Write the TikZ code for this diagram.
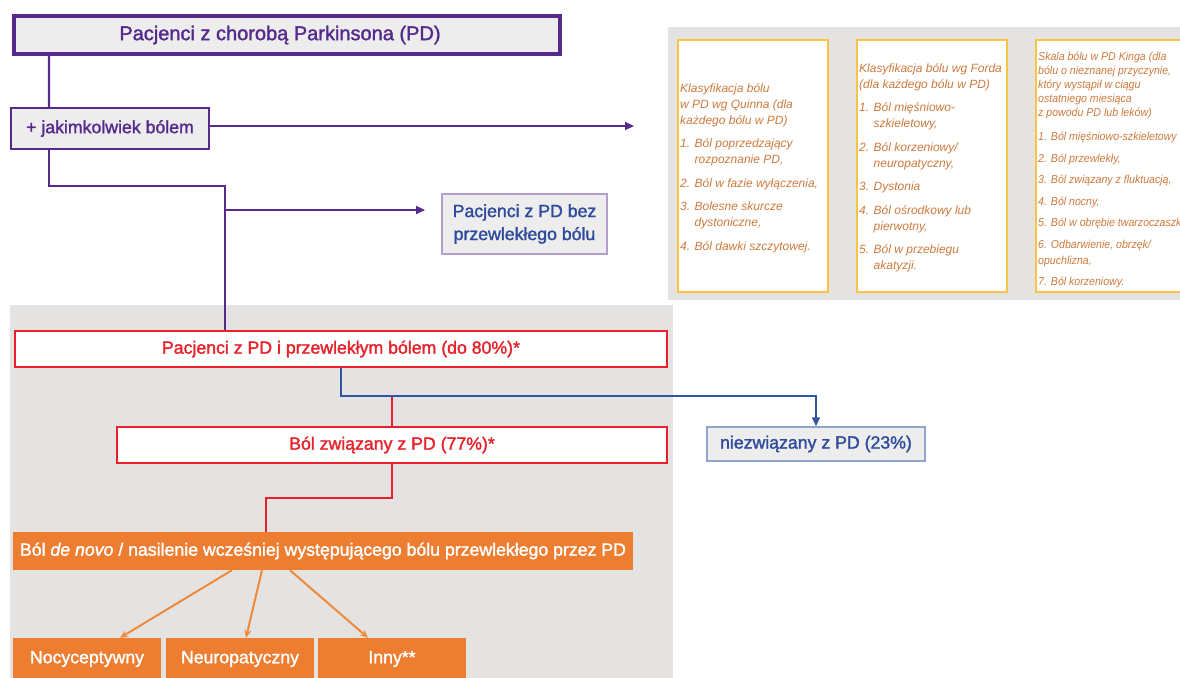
\documentclass[tikz,border=0pt]{standalone}
\usepackage{fontspec}
\setmainfont{Liberation Sans}[FakeBold=1.6]
\newfontfamily\notef{Liberation Sans}
\newfontfamily\notecf{Liberation Sans}[FakeStretch=0.92]
\usetikzlibrary{arrows.meta}

\definecolor{purp}{HTML}{552A8C}
\definecolor{boxgray}{HTML}{EDEDED}
\definecolor{panelgray}{HTML}{E4E3E2}
\definecolor{redl}{HTML}{E8212A}
\definecolor{bluel}{HTML}{2F55A4}
\definecolor{bluetxt}{HTML}{2F4B9B}
\definecolor{bluebd}{HTML}{8FA3CC}
\definecolor{orangef}{HTML}{ED7D31}
\definecolor{orangel}{HTML}{EF8A3A}
\definecolor{yellowbd}{HTML}{F6C446}
\definecolor{notetxt}{HTML}{CF7A3C}

\newcommand{\lab}{\fontsize{17.7}{23}\selectfont}

\begin{document}
\begin{tikzpicture}[x=1pt,y=-1pt,
    box/.style={draw, rectangle, inner sep=0pt, align=center, font=\lab},
    purpbox/.style={box, draw=purp, fill=boxgray, text=purp, line width=1.8pt},
    bluebox/.style={box, draw=bluebd, fill=boxgray, text=bluetxt, line width=1.5pt},
    redbox/.style={box, draw=redl, fill=white, text=redl, line width=2pt},
    orbox/.style={box, draw=none, fill=orangef, text=white},
    notebox/.style={draw=yellowbd, fill=white, line width=2pt, inner sep=0pt},
    notetext/.style={align=left, anchor=west, inner sep=0pt, text=notetxt},
    purpline/.style={draw=purp, line width=2.2pt},
    redline/.style={draw=redl, line width=2pt},
    blueline/.style={draw=bluel, line width=2pt},
    orarrow/.style={draw=orangel, line width=2pt, -{Stealth[length=8pt,width=7pt]}},
    tip/.style={-{Triangle[length=9pt,width=8pt]}}]
  \clip (0,0) rectangle (1180,677);

  % grey panels
  \fill[panelgray] (668,27) rectangle (1190,300);
  \fill[panelgray] (10,305) rectangle (673,690);

  % classification boxes
  \node[notebox, minimum width=150pt, minimum height=252pt] (quinn) at (753,166) {};
  \node[notebox, minimum width=150pt, minimum height=252pt] (ford) at (932,166) {};
  \node[notebox, minimum width=160pt, minimum height=252pt] (king) at (1116,166) {};

  \node[notetext, font=\notef\itshape\fontsize{12}{16}\selectfont] (quinntxt) at (680,168) {%
    Klasyfikacja bólu\\
    w PD wg Quinna (dla\\
    każdego bólu w PD)\\[7.5pt]
    1. Ból poprzedzający\\
    \hphantom{1. }rozpoznanie PD,\\[7.5pt]
    2. Ból w fazie wyłączenia,\\[7.5pt]
    3. Bolesne skurcze\\
    \hphantom{3. }dystoniczne,\\[7.5pt]
    4. Ból dawki szczytowej.};
  \node[notetext, font=\notef\itshape\fontsize{12}{16}\selectfont] (fordtxt) at (859,168) {%
    Klasyfikacja bólu wg Forda\\
    (dla każdego bólu w PD)\\[7.5pt]
    1. Ból mięśniowo-\\
    \hphantom{1. }szkieletowy,\\[7.5pt]
    2. Ból korzeniowy/\\
    \hphantom{2. }neuropatyczny,\\[7.5pt]
    3. Dystonia\\[7.5pt]
    4. Ból ośrodkowy lub\\
    \hphantom{4. }pierwotny,\\[7.5pt]
    5. Ból w przebiegu\\
    \hphantom{5. }akatyzji.};
  \node[notetext, font=\notecf\itshape\fontsize{11.5}{14}\selectfont] (kingtxt) at (1038,170) {%
    Skala bólu w PD Kinga (dla\\
    bólu o nieznanej przyczynie,\\
    który wystąpił w ciągu\\
    ostatniego miesiąca\\
    z powodu PD lub leków)\\[10pt]
    1. Ból mięśniowo-szkieletowy\\[7.5pt]
    2. Ból przewlekły,\\[7.5pt]
    3. Ból związany z fluktuacją,\\[7.5pt]
    4. Ból nocny,\\[7.5pt]
    5. Ból w obrębie twarzoczaszki\\[7.5pt]
    6. Odbarwienie, obrzęk/\\[2pt]
    opuchlizna,\\[7.5pt]
    7. Ból korzeniowy.};

  % flow boxes
  \node[purpbox, line width=4pt, minimum width=546pt, minimum height=38pt,
        font=\fontsize{20}{24}\selectfont] (pd) at (287,35) {Pacjenci z chorobą Parkinsona (PD)\hspace*{14pt}};
  \node[purpbox, minimum width=198pt, minimum height=41pt] (pain) at (110,128.5) {+ jakimkolwiek bólem};
  \node[bluebox, draw=purp!45, minimum width=165pt, minimum height=60pt] (nochr) at (524.5,224) {Pacjenci z PD bez\\przewlekłego bólu};
  \node[redbox, minimum width=652pt, minimum height=36pt] (chr) at (341,349) {Pacjenci z PD i przewlekłym bólem (do 80\%)*};
  \node[redbox, minimum width=550pt, minimum height=36pt] (rel) at (392,445) {Ból związany z PD (77\%)*};
  \node[bluebox, minimum width=218pt, minimum height=34pt] (unrel) at (816,444) {niezwiązany z PD (23\%)};
  \node[orbox, minimum width=620pt, minimum height=38pt] (nov) at (323,551) {Ból \textit{de novo} / nasilenie wcześniej występującego bólu przewlekłego przez PD};
  \node[orbox, minimum width=148pt, minimum height=42pt] (noc) at (87,659) {Nocyceptywny};
  \node[orbox, minimum width=148pt, minimum height=42pt] (neu) at (240,659) {Neuropatyczny};
  \node[orbox, minimum width=148pt, minimum height=42pt] (oth) at (392,659) {Inny**};

  % connectors
  \coordinate (e1) at (634,126);
  \coordinate (b1) at (225,186);
  \coordinate (b2) at (225,210);
  \coordinate (e2) at (425,210);
  \coordinate (b3) at (392,396);
  \coordinate (b4) at (266,498);

  \draw[purpline] ([xshift=37pt]pd.south west) -- ([xshift=39pt]pain.north west);
  \draw[purpline, tip] (pain.east |- e1) -- (e1);
  \draw[purpline] ([xshift=39pt]pain.south west) |- (b1) -- (chr.north -| b1);
  \draw[purpline, tip] (b2) -- (e2);

  \draw[redline] (b3) -- (rel.north);
  \draw[blueline, tip] (chr.south) -- (chr.south |- b3) -| (unrel.north);
  \draw[redline] (rel.south) |- (b4) -- (nov.north -| b4);

  \draw[orarrow] ([xshift=-91pt]nov.south) -- ([xshift=33pt]noc.north);
  \draw[orarrow] ([xshift=-61pt]nov.south) -- ([xshift=6pt]neu.north);
  \draw[orarrow] ([xshift=-33pt]nov.south) -- ([xshift=-24pt]oth.north);
\end{tikzpicture}
\end{document}
